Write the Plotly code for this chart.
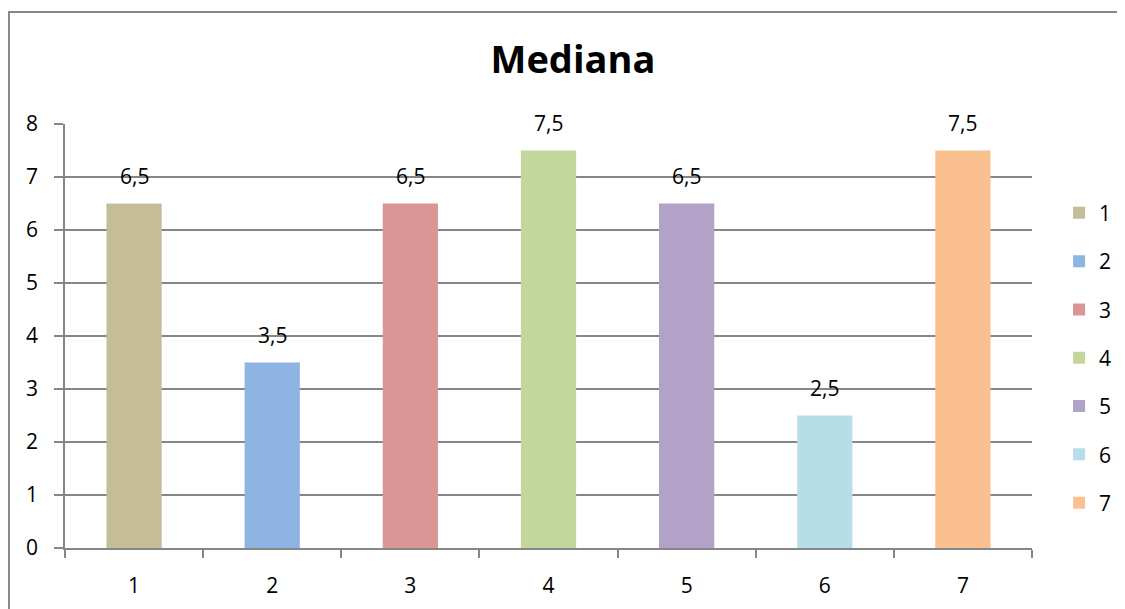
import plotly.graph_objects as go

categories = ["1", "2", "3", "4", "5", "6", "7"]
values = [6.5, 3.5, 6.5, 7.5, 6.5, 2.5, 7.5]
colors = ["#C4BD97", "#8EB4E3", "#D99694", "#C3D69B", "#B3A2C7", "#B7DEE8", "#FAC090"]
title_text = "Mediana"
y_ticks = [0, 1, 2, 3, 4, 5, 6, 7, 8]

FONT = "Open Sans, Liberation Sans, sans-serif"
GRID = "#868686"

fig = go.Figure()
for i, (c, v, col) in enumerate(zip(categories, values, colors)):
    fig.add_trace(go.Bar(
        x=[c], y=[v], name=c, marker=dict(color=col, line=dict(width=0)),
        legendgroup=c, showlegend=True,
    ))
    fig.add_annotation(
        x=i, y=v, text=f"{v:.1f}".replace(".", ","), showarrow=False,
        yanchor="bottom", yshift=12, font=dict(family=FONT, size=21, color="black"),
    )

fig.add_shape(type="rect", xref="paper", yref="paper",
              x0=-0.058, x1=1.2, y0=-0.3, y1=1.264,
              line=dict(color=GRID, width=2), layer="below")

fig.update_layout(
    width=1125, height=609,
    paper_bgcolor="white", plot_bgcolor="white",
    margin=dict(l=57, r=101, t=116, b=69),
    barmode="overlay", bargap=0.6,
    separators=",.",
    font=dict(family=FONT, size=21, color="black"),
    title=dict(text=f"<b>{title_text}</b>", x=565 / 1125, xanchor="center", xref="container",
               y=1 - 52 / 609, yanchor="middle", font=dict(family=FONT, size=38, color="black")),
    legend=dict(x=1.028, y=0.838, xanchor="left", yanchor="top",
                font=dict(family=FONT, size=21, color="black"),
                tracegroupgap=18, traceorder="grouped", itemwidth=30,
                bgcolor="rgba(0,0,0,0)"),
    showlegend=True,
)
fig.update_xaxes(
    type="category", categoryorder="array", categoryarray=categories,
    range=[-0.5, 6.5], showline=True, linecolor=GRID, linewidth=1.5,
    ticks="outside", tickson="boundaries", ticklen=8, tickcolor=GRID, tickwidth=1.5,
    showgrid=False, ticklabelstandoff=18, tickfont=dict(size=21),
)
fig.update_yaxes(
    range=[0, 8], tickvals=y_ticks, showline=True, linecolor=GRID, linewidth=1.5,
    ticks="outside", ticklen=9, tickcolor=GRID, tickwidth=1.5,
    showgrid=True, gridcolor=GRID, gridwidth=1.5, zeroline=False,
    ticklabelstandoff=12, tickfont=dict(size=21),
)

fig.write_html("out.html")
